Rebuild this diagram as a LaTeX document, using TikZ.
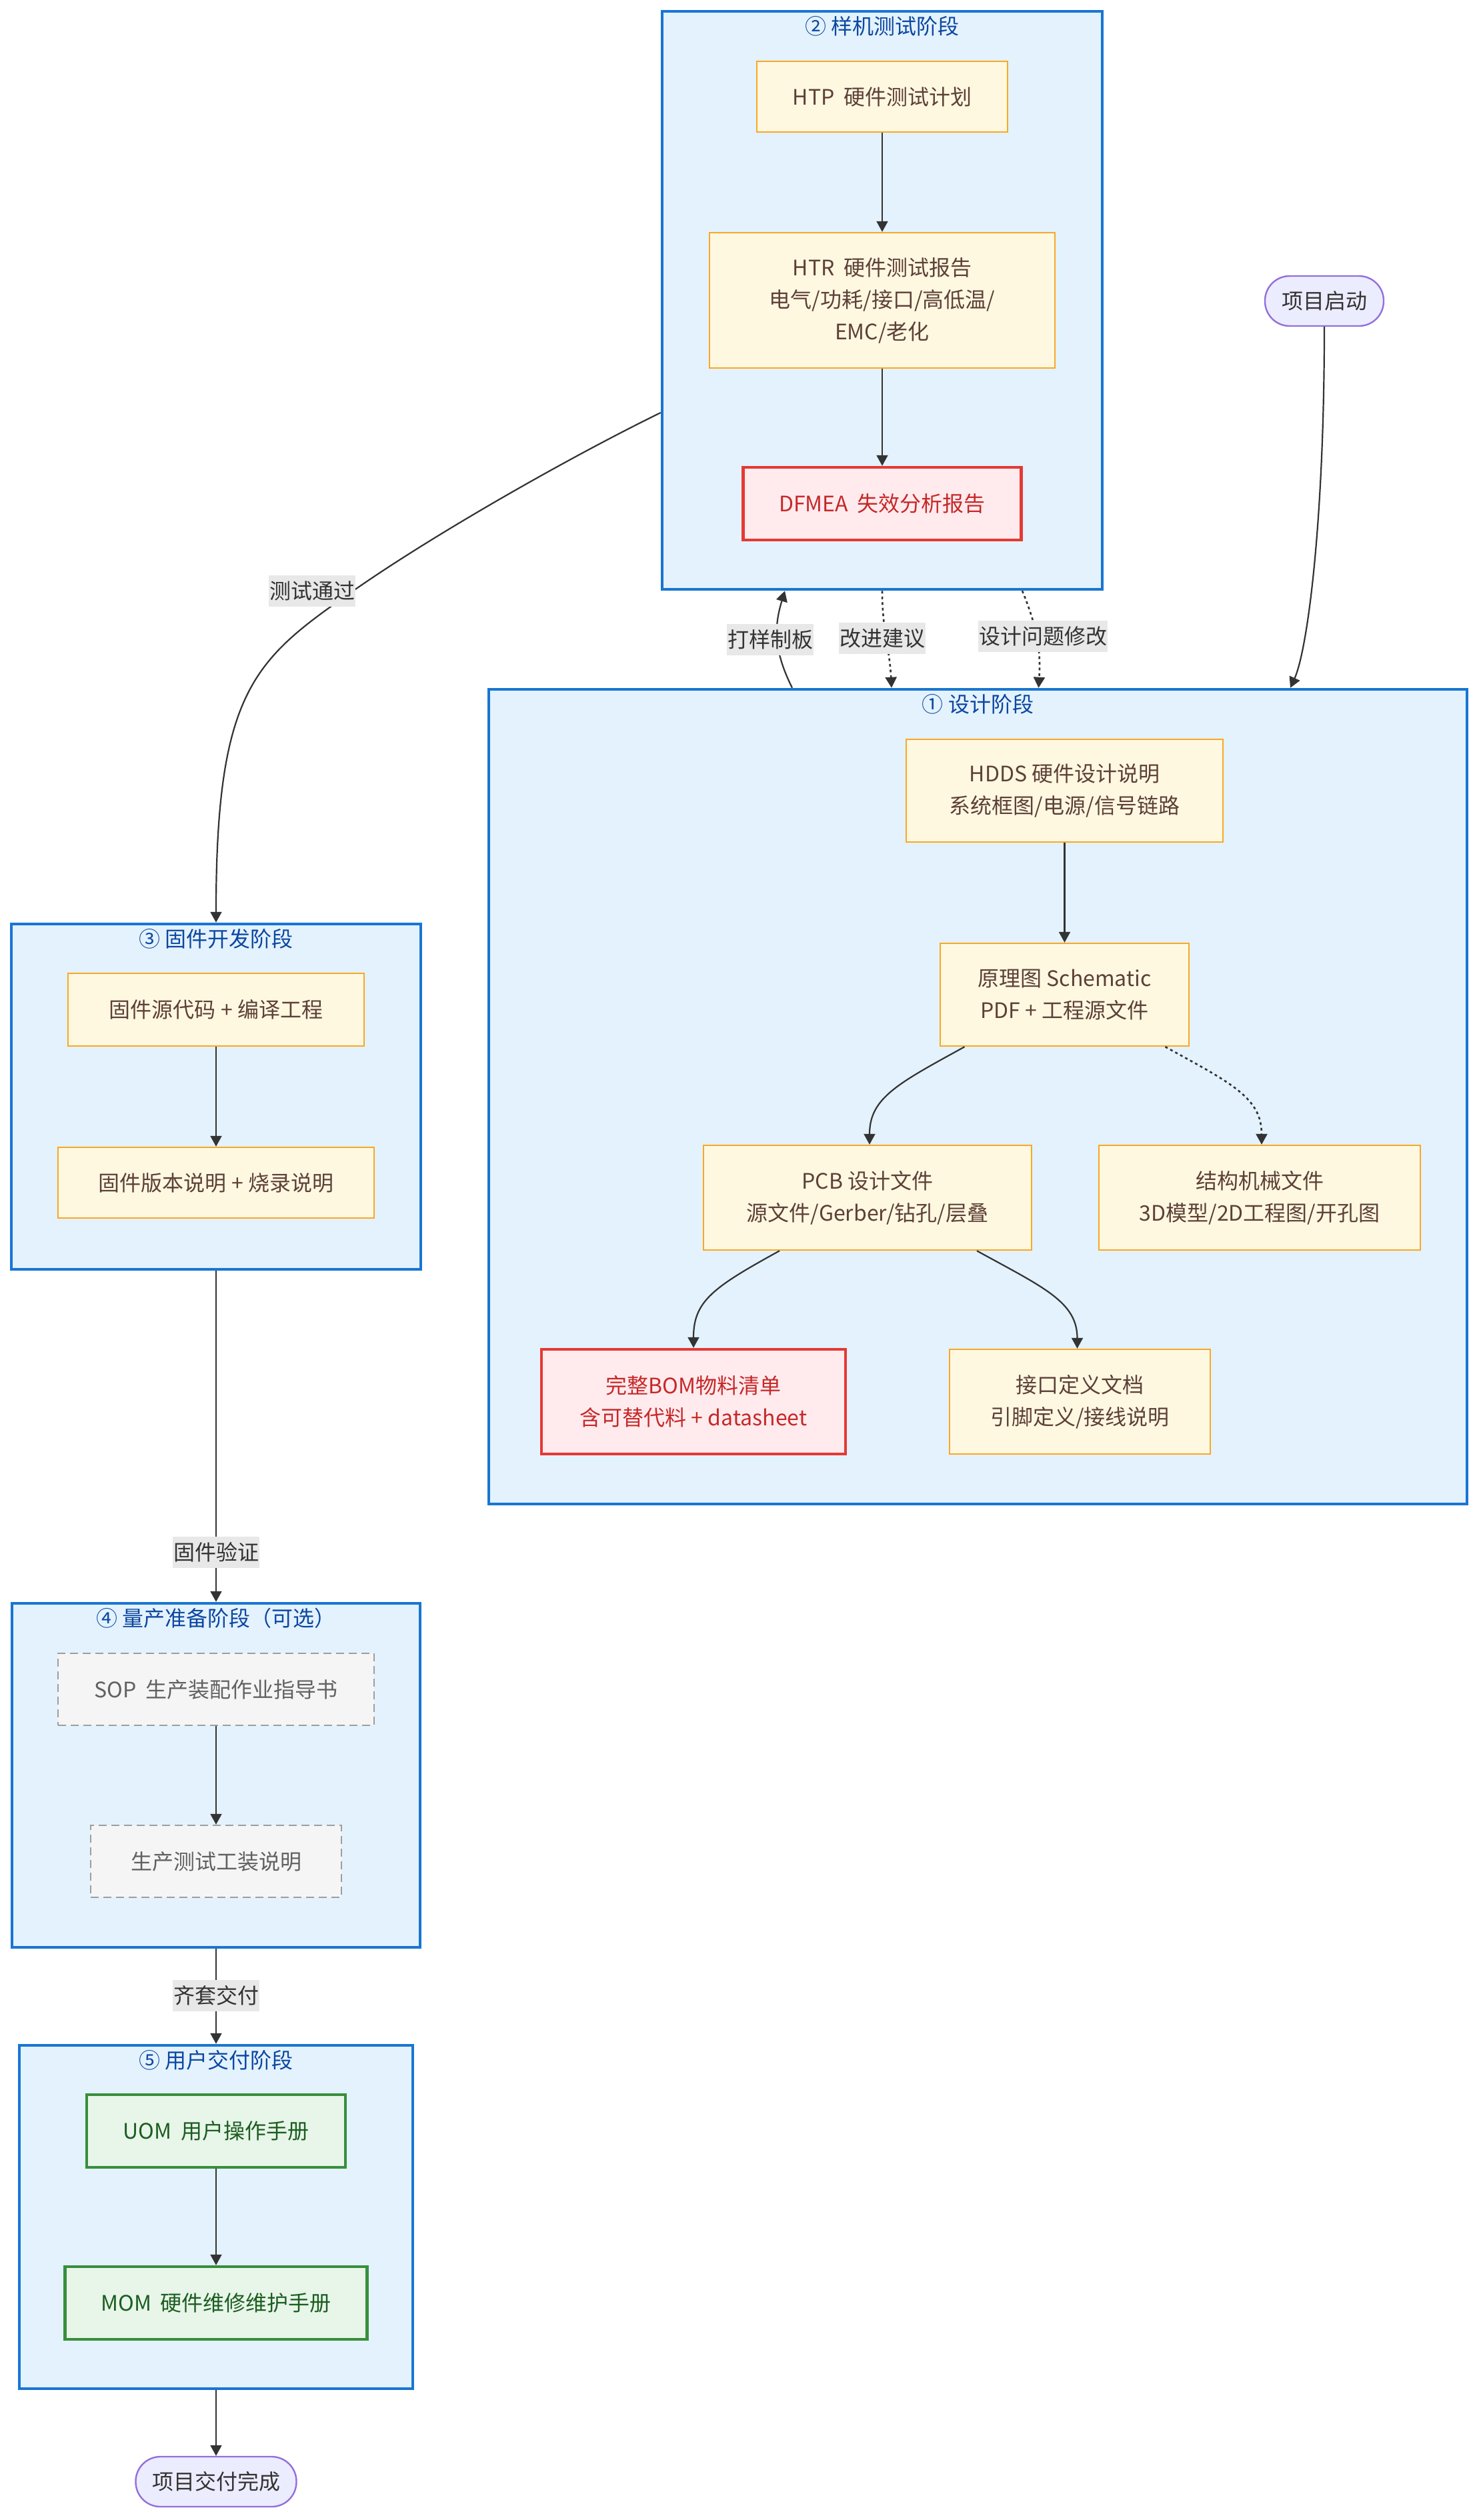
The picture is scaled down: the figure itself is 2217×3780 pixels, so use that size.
\documentclass[tikz,border=0pt]{standalone}
\usepackage{fontspec}
\setmainfont{Noto Sans CJK SC}
\usetikzlibrary{arrows.meta}
\definecolor{clFill}{HTML}{E3F2FD}
\definecolor{clDraw}{HTML}{1976D2}
\definecolor{clText}{HTML}{0D47A1}
\definecolor{yFill}{HTML}{FFF8E1}
\definecolor{yDraw}{HTML}{F9A825}
\definecolor{yText}{HTML}{5D4037}
\definecolor{rFill}{HTML}{FFEBEE}
\definecolor{rDraw}{HTML}{E53935}
\definecolor{rText}{HTML}{C62828}
\definecolor{gFill}{HTML}{F5F5F5}
\definecolor{gDraw}{HTML}{9E9E9E}
\definecolor{gText}{HTML}{616161}
\definecolor{grFill}{HTML}{E8F5E9}
\definecolor{grDraw}{HTML}{388E3C}
\definecolor{grText}{HTML}{1B5E20}
\definecolor{pFill}{HTML}{ECECFF}
\definecolor{pDraw}{HTML}{9370DB}
\definecolor{edgeC}{HTML}{333333}
\definecolor{lblBg}{HTML}{E8E8E8}
\begin{document}
\begin{tikzpicture}[x=1pt,y=-1pt,
  font=\fontsize{32}{48}\selectfont,
  cluster/.style={draw=clDraw,fill=clFill,line width=4.5pt,inner sep=0pt},
  ctitle/.style={text=clText,inner sep=0pt},
  ybox/.style={draw=yDraw,fill=yFill,text=yText,line width=2.4pt,inner sep=0pt,align=center},
  rbox/.style={draw=rDraw,fill=rFill,text=rText,line width=4.5pt,inner sep=0pt,align=center},
  gbox/.style={draw=gDraw,fill=gFill,text=gText,line width=2.4pt,dash pattern=on 12pt off 7pt,inner sep=0pt,align=center},
  grbox/.style={draw=grDraw,fill=grFill,text=grText,line width=4.5pt,inner sep=0pt,align=center},
  term/.style={draw=pDraw,fill=pFill,text=edgeC,line width=2.4pt,rounded corners=37pt,inner sep=0pt},
  arr/.style={draw=edgeC,line width=2.2pt,-{Triangle[length=16pt,width=17pt]}},
  dots/.style={arr,line width=2.6pt,dash pattern=on 4pt off 4.5pt},
  lbl/.style={fill=lblBg,text=edgeC,inner xsep=1pt,inner ysep=0pt,minimum height=47pt}
]
\fill[white] (0,0) rectangle (2217,3780);
\useasboundingbox (0,0) rectangle (2217,3780);

% clusters
\node[cluster,minimum width=660pt,minimum height=867pt] (c2) at (1323,450.5) {};
\node[cluster,minimum width=1467pt,minimum height=1222pt] (c1) at (1466.5,1645) {};
\node[cluster,minimum width=614pt,minimum height=518pt] (c3) at (324,1645) {};
\node[cluster,minimum width=612pt,minimum height=516pt] (c4) at (324,2663) {};
\node[cluster,minimum width=590pt,minimum height=515pt] (c5) at (324,3325.5) {};

\node[ctitle] (t2) at ([yshift=-25pt]c2.north) {② 样机测试阶段};
\node[ctitle] (t1) at ([yshift=-25pt]c1.north) {① 设计阶段};
\node[ctitle] (t3) at ([yshift=-25pt]c3.north) {③ 固件开发阶段};
\node[ctitle] (t4) at ([yshift=-25pt]c4.north) {④ 量产准备阶段（可选）};
\node[ctitle] (t5) at ([yshift=-25pt]c5.north) {⑤ 用户交付阶段};

% nodes
\node[ybox,minimum width=376pt,minimum height=106pt] (htp) at (1323,145) {HTP\hspace{0.2em} 硬件测试计划};
\node[ybox,minimum width=518pt,minimum height=203pt] (htr) at (1323,450.5) {HTR\hspace{0.2em} 硬件测试报告\\电气/功耗/接口/高低温/\\EMC/老化};
\node[rbox,minimum width=417pt,minimum height=109pt] (dfmea) at (1323,755.5) {DFMEA\hspace{0.2em} 失效分析报告};
\node[term,minimum width=178pt,minimum height=75pt] (start) at (1986,451.5) {项目启动};
\node[ybox,minimum width=475pt,minimum height=154pt] (hdds) at (1596.5,1186) {HDDS 硬件设计说明\\系统框图/电源/信号链路};
\node[ybox,minimum width=373pt,minimum height=154pt] (sch) at (1596.5,1492) {原理图 Schematic\\PDF + 工程源文件};
\node[ybox,minimum width=492pt,minimum height=157pt] (pcb) at (1301,1796.5) {PCB 设计文件\\源文件/Gerber/钻孔/层叠};
\node[ybox,minimum width=482pt,minimum height=157pt] (mech) at (1889,1796.5) {结构机械文件\\3D模型/2D工程图/开孔图};
\node[rbox,minimum width=456pt,minimum height=157pt] (bom) at (1040,2102.5) {完整BOM物料清单\\含可替代料 + datasheet};
\node[ybox,minimum width=391pt,minimum height=157pt] (intf) at (1619.5,2102.5) {接口定义文档\\引脚定义/接线说明};
\node[ybox,minimum width=444pt,minimum height=109pt] (fw1) at (324,1514.5) {固件源代码 + 编译工程};
\node[ybox,minimum width=474pt,minimum height=106pt] (fw2) at (324,1774) {固件版本说明 + 烧录说明};
\node[gbox,minimum width=474pt,minimum height=108pt] (sop) at (324,2534) {SOP\hspace{0.2em} 生产装配作业指导书};
\node[gbox,minimum width=376pt,minimum height=108pt] (ptest) at (324,2792) {生产测试工装说明};
\node[grbox,minimum width=388pt,minimum height=109pt] (uom) at (324,3196.5) {UOM\hspace{0.2em} 用户操作手册};
\node[grbox,minimum width=453pt,minimum height=109pt] (mom) at (324,3454.5) {MOM\hspace{0.2em} 硬件维修维护手册};
\node[term,minimum width=241pt,minimum height=75pt] (endn) at (324,3722.5) {项目交付完成};

% edges inside clusters
\draw[arr] (htp) -- (htr);
\draw[arr] (htr) -- (dfmea);
\draw[arr] (hdds) -- (sch);
\draw[arr] ([xshift=-150pt]sch.south) .. controls +(-100,55) and +(0,-70) .. ([xshift=3pt]pcb.north);
\draw[dots] ([xshift=151pt]sch.south) .. controls +(100,55) and +(0,-70) .. ([xshift=3pt]mech.north);
\draw[arr] ([xshift=-132pt]pcb.south) .. controls +(-100,55) and +(0,-70) .. (bom.north);
\draw[arr] ([xshift=164pt]pcb.south) .. controls +(100,55) and +(0,-70) .. ([xshift=-4pt]intf.north);
\draw[arr] (fw1) -- (fw2);
\draw[arr] (sop) -- (ptest);
\draw[arr] (uom) -- (mom);

% edges between clusters
\draw[arr] (start.south) .. controls +(0,300) and +(25,-55) .. ([xshift=468.5pt]c1.north);
\draw[dots] (c2.south) .. controls +(0,60) and +(-3,-60) .. ([xshift=-129.5pt]c1.north);
\draw[dots] ([xshift=210pt]c2.south) .. controls +(25,60) and +(3,-50) .. ([xshift=91pt]c1.north);
\draw[arr] ([xshift=-278.5pt]c1.north) .. controls +(-30,-60) and +(-15,50) .. ([xshift=-146pt]c2.south);
\draw[arr] ([yshift=-168.5pt]c2.west) .. controls +(-135,66) and +(123,-86) .. (530,886)
   .. controls +(-148,103) and +(0,-350) .. (c3.north);
\draw[arr] (c3.south) -- (c4.north);
\draw[arr] (c4.south) -- (c5.north);
\draw[arr] (c5.south) -- (endn.north);

% edge labels
\node[lbl] (l1) at (1155,959) {打样制板};
\node[lbl] (l2) at (1323,957) {改进建议};
\node[lbl] (l3) at (1564,954) {设计问题修改};
\node[lbl] (l4) at (468,886) {测试通过};
\node[lbl] (l5) at (324,2328) {固件验证};
\node[lbl] (l6) at (324,2993) {齐套交付};
\end{tikzpicture}
\end{document}
